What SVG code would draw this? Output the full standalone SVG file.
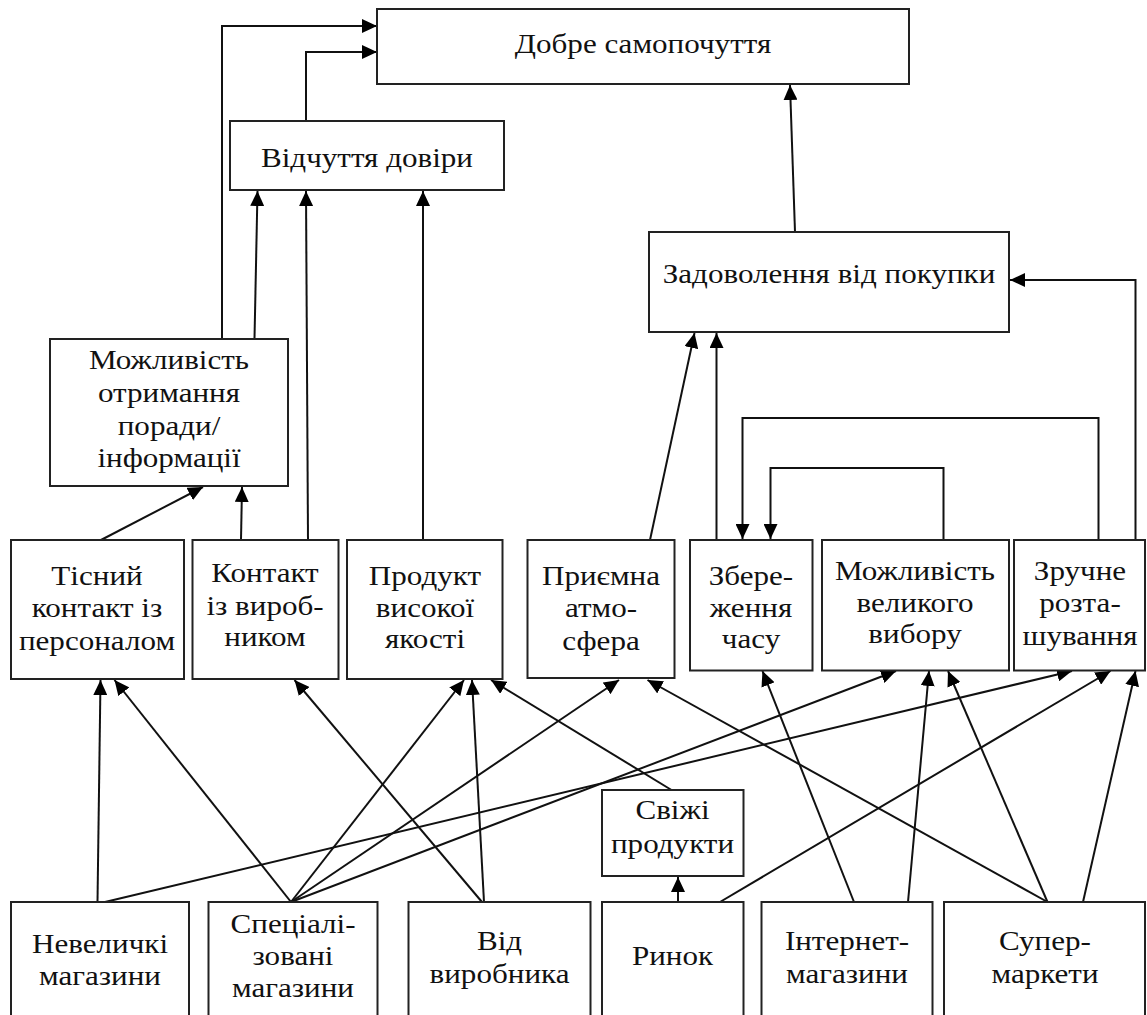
<svg xmlns="http://www.w3.org/2000/svg" width="1147" height="1015" viewBox="0 0 1147 1015">
<style>
.box{fill:#fff;stroke:#222;stroke-width:2}
.t{font-family:"Liberation Serif","Times New Roman",serif;font-size:28px;fill:#111;text-anchor:middle}
.c{fill:none;stroke:#111;stroke-width:2}
</style>
<defs>
<marker id="ah" markerUnits="userSpaceOnUse" markerWidth="16" markerHeight="14" refX="15" refY="7" orient="auto">
<path d="M0,0 L15,7 L0,14 z" fill="#000"/>
</marker>
</defs>
<rect width="1147" height="1015" fill="#fff"/>
<g id="connectors" class="c" marker-end="url(#ah)">
<polyline class="c" points="222,339 222,26 377,26" marker-end="url(#ah)"/>
<polyline class="c" points="306,121 306,52 377,52" marker-end="url(#ah)"/>
<line class="c" x1="254.5" y1="339" x2="257.5" y2="191" marker-end="url(#ah)"/>
<line class="c" x1="308" y1="540" x2="306" y2="191" marker-end="url(#ah)"/>
<line class="c" x1="423" y1="540" x2="423" y2="191" marker-end="url(#ah)"/>
<line class="c" x1="795" y1="232" x2="790" y2="85" marker-end="url(#ah)"/>
<polyline class="c" points="1135.5,540 1135.5,280 1010,280" marker-end="url(#ah)"/>
<line class="c" x1="650" y1="540" x2="694.5" y2="333" marker-end="url(#ah)"/>
<line class="c" x1="716.5" y1="540" x2="716.5" y2="333" marker-end="url(#ah)"/>
<polyline class="c" points="1098.5,540 1098.5,418 742.5,418 742.5,539" marker-end="url(#ah)"/>
<polyline class="c" points="943.5,540 943.5,468 770.5,468 770.5,539" marker-end="url(#ah)"/>
<line class="c" x1="101" y1="540" x2="203" y2="487" marker-end="url(#ah)"/>
<line class="c" x1="241" y1="540" x2="242" y2="487" marker-end="url(#ah)"/>
<line class="c" x1="97.5" y1="902" x2="100.5" y2="680" marker-end="url(#ah)"/>
<line class="c" x1="105" y1="902" x2="1072" y2="671" marker-end="url(#ah)"/>
<line class="c" x1="291" y1="902" x2="114.5" y2="680" marker-end="url(#ah)"/>
<line class="c" x1="291" y1="902" x2="464" y2="680" marker-end="url(#ah)"/>
<line class="c" x1="291" y1="902" x2="619" y2="680" marker-end="url(#ah)"/>
<line class="c" x1="291" y1="902" x2="896" y2="671" marker-end="url(#ah)"/>
<line class="c" x1="482" y1="902" x2="294.5" y2="680" marker-end="url(#ah)"/>
<line class="c" x1="484" y1="902" x2="472" y2="680" marker-end="url(#ah)"/>
<line class="c" x1="671.5" y1="790" x2="491" y2="680" marker-end="url(#ah)"/>
<line class="c" x1="678" y1="902" x2="678" y2="877" marker-end="url(#ah)"/>
<line class="c" x1="720" y1="902" x2="1110.5" y2="671" marker-end="url(#ah)"/>
<line class="c" x1="854" y1="902" x2="762.5" y2="671" marker-end="url(#ah)"/>
<line class="c" x1="908" y1="902" x2="929" y2="671" marker-end="url(#ah)"/>
<line class="c" x1="1047.5" y1="902" x2="647.5" y2="680" marker-end="url(#ah)"/>
<line class="c" x1="1047.5" y1="902" x2="948" y2="671" marker-end="url(#ah)"/>
<line class="c" x1="1083" y1="902" x2="1135.5" y2="671" marker-end="url(#ah)"/>
</g>
<g id="n-dobre"><rect class="box" x="377" y="9" width="532" height="75"/><text class="t" transform="translate(643 0) scale(1.11 1)" y="53">Добре самопочуття</text></g>
<g id="n-dovira"><rect class="box" x="230" y="121" width="274" height="69"/><text class="t" transform="translate(367 0) scale(1.11 1)" y="167">Відчуття довіри</text></g>
<g id="n-zadov"><rect class="box" x="649" y="232" width="360" height="100"/><text class="t" transform="translate(829 0) scale(1.11 1)" y="283">Задоволення від покупки</text></g>
<g id="n-porada"><rect class="box" x="50" y="339" width="238" height="147"/>
<g transform="translate(169 0) scale(1.11 1)"><text class="t" y="369">Можливість</text><text class="t" y="402">отримання</text><text class="t" y="435">поради/</text><text class="t" y="467">інформації</text></g></g>
<g id="n-tisnyi"><rect class="box" x="11" y="540" width="173" height="139"/>
<g transform="translate(97 0) scale(1.11 1)"><text class="t" y="585">Тісний</text><text class="t" y="617">контакт із</text><text class="t" y="650">персоналом</text></g></g>
<g id="n-kontakt"><rect class="box" x="192.5" y="540" width="146" height="139"/>
<g transform="translate(265 0) scale(1.11 1)"><text class="t" y="582">Контакт</text><text class="t" y="615">із вироб-</text><text class="t" y="646">ником</text></g></g>
<g id="n-produkt"><rect class="box" x="347" y="540" width="155.5" height="139"/>
<g transform="translate(425 0) scale(1.11 1)"><text class="t" y="585">Продукт</text><text class="t" y="617">високої</text><text class="t" y="648">якості</text></g></g>
<g id="n-atmo"><rect class="box" x="527.5" y="540" width="147" height="138"/>
<g transform="translate(601 0) scale(1.11 1)"><text class="t" y="585">Приємна</text><text class="t" y="617">атмо-</text><text class="t" y="650">сфера</text></g></g>
<g id="n-chas"><rect class="box" x="690" y="540" width="122.5" height="130.5"/>
<g transform="translate(751 0) scale(1.11 1)"><text class="t" y="585">Збере-</text><text class="t" y="617">ження</text><text class="t" y="648">часу</text></g></g>
<g id="n-vybir"><rect class="box" x="822" y="540" width="187" height="130.5"/>
<g transform="translate(915 0) scale(1.11 1)"><text class="t" y="580">Можливість</text><text class="t" y="612">великого</text><text class="t" y="643">вибору</text></g></g>
<g id="n-roztash"><rect class="box" x="1014" y="540" width="131" height="130.5"/>
<g transform="translate(1080 0) scale(1.11 1)"><text class="t" y="580">Зручне</text><text class="t" y="612">розта-</text><text class="t" y="645">шування</text></g></g>
<g id="n-svizhi"><rect class="box" x="602" y="790" width="141.5" height="86"/>
<g transform="translate(672.5 0) scale(1.11 1)"><text class="t" y="819">Свіжі</text><text class="t" y="853">продукти</text></g></g>
<g id="n-nevel"><rect class="box" x="11" y="902" width="178" height="120"/>
<g transform="translate(100 0) scale(1.11 1)"><text class="t" y="953">Невеличкі</text><text class="t" y="985">магазини</text></g></g>
<g id="n-spec"><rect class="box" x="208.5" y="902" width="169" height="120"/>
<g transform="translate(293 0) scale(1.11 1)"><text class="t" y="933">Спеціалі-</text><text class="t" y="965">зовані</text><text class="t" y="997">магазини</text></g></g>
<g id="n-vyrob"><rect class="box" x="408.5" y="902" width="182" height="120"/>
<g transform="translate(499.5 0) scale(1.11 1)"><text class="t" y="950">Від</text><text class="t" y="983">виробника</text></g></g>
<g id="n-rynok"><rect class="box" x="602" y="902" width="141.5" height="120"/>
<g transform="translate(672.5 0) scale(1.11 1)"><text class="t" y="965">Ринок</text></g></g>
<g id="n-internet"><rect class="box" x="761.5" y="902" width="171" height="120"/>
<g transform="translate(847 0) scale(1.11 1)"><text class="t" y="950">Інтернет-</text><text class="t" y="983">магазини</text></g></g>
<g id="n-super"><rect class="box" x="944" y="902" width="201" height="120"/>
<g transform="translate(1045 0) scale(1.11 1)"><text class="t" y="950">Супер-</text><text class="t" y="983">маркети</text></g></g>
</svg>
